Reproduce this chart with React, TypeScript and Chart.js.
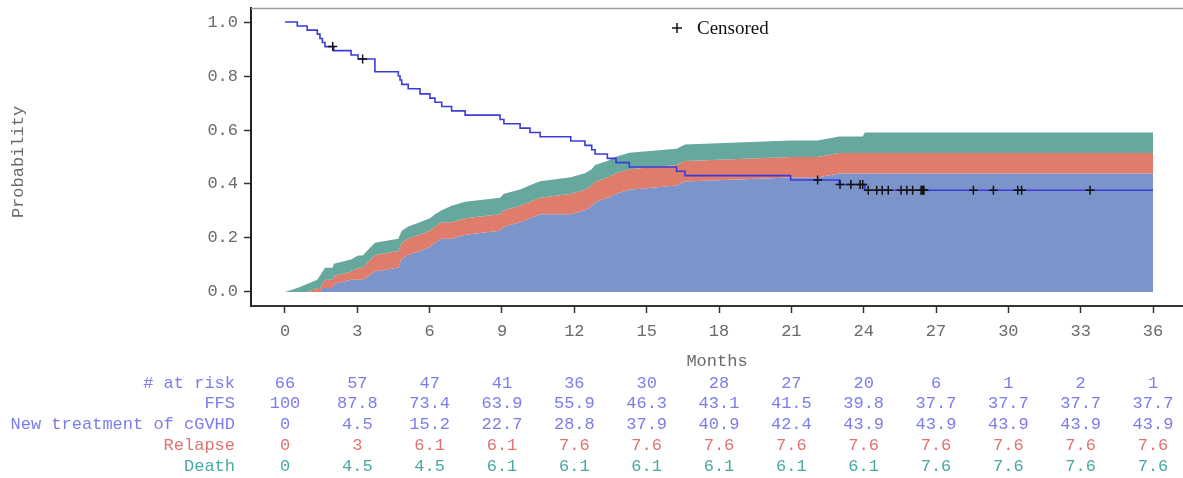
import { useEffect, useRef } from "react";
import { Chart, registerables } from "chart.js";

Chart.register(...registerables);

// Axis ticks
const monthTicks = [0, 3, 6, 9, 12, 15, 18, 21, 24, 27, 30, 33, 36];
const probTicks = [0, 0.2, 0.4, 0.6, 0.8, 1.0];

// Failure-free survival (Kaplan–Meier): time of each step and the value after it
const ffsTimes = [
  0, 0.51, 0.92, 1.34, 1.45, 1.55, 1.66, 2.02, 2.74, 3.03, 3.73, 4.7, 4.77, 4.84,
  5.11, 5.6, 6.01, 6.22, 6.5, 6.91, 7.47, 8.92, 9.08, 9.75, 10.16, 10.58, 11.85,
  12.44, 12.72, 12.86, 13.37, 13.73, 14.28, 16.24, 16.59, 20.97, 22.99, 24.05, 36,
];
const ffsSurv = [
  1.0, 0.985, 0.97, 0.955, 0.939, 0.924, 0.909, 0.894, 0.878, 0.863, 0.816, 0.8,
  0.785, 0.769, 0.753, 0.734, 0.718, 0.703, 0.687, 0.671, 0.655, 0.639, 0.623,
  0.607, 0.591, 0.575, 0.559, 0.543, 0.527, 0.511, 0.495, 0.479, 0.463, 0.447,
  0.431, 0.415, 0.398, 0.377, 0.377,
];

// Censored observations (months)
const censorTimes = [
  1.98, 3.22, 22.09, 23.02, 23.47, 23.85, 23.96, 24.19, 24.54, 24.77, 25.02, 25.55,
  25.79, 26.03, 26.38, 26.43, 26.47, 26.5, 28.55, 29.38, 30.39, 30.55, 33.39,
];

// Cumulative incidence of each failure type (%), on a shared time grid
const cifTimes = [
  0, 0.51, 0.92, 1.34, 1.45, 1.55, 1.66, 1.98, 2.02, 2.74, 3.03, 3.22, 3.73, 4.7,
  4.77, 4.84, 5.11, 5.6, 6.01, 6.22, 6.5, 6.91, 7.47, 8.92, 9.08, 9.75, 10.16,
  10.58, 11.85, 12.44, 12.72, 12.86, 13.37, 13.73, 14.28, 16.24, 16.59, 20.97,
  22.09, 22.99, 23.96, 24.05, 36,
];
const newTreatment = [
  0, 0, 0, 0, 0, 1.5, 1.5, 1.5, 3.0, 4.5, 4.5, 4.5, 7.6, 9.1, 10.6, 12.1, 13.7,
  15.2, 16.7, 18.2, 19.7, 19.7, 21.2, 22.7, 24.2, 25.8, 27.3, 28.8, 28.8, 30.3,
  31.8, 33.3, 34.8, 36.4, 37.9, 39.4, 40.9, 42.4, 42.4, 43.9, 43.9, 43.9, 43.9,
];
const relapse = [
  0, 0, 0, 1.5, 1.5, 1.5, 3.0, 3.0, 3.0, 3.0, 4.5, 4.5, 6.1, 6.1, 6.1, 6.1, 6.1,
  6.1, 6.1, 6.1, 6.1, 6.1, 6.1, 6.1, 6.1, 6.1, 6.1, 6.1, 7.6, 7.6, 7.6, 7.6, 7.6,
  7.6, 7.6, 7.6, 7.6, 7.6, 7.6, 7.6, 7.6, 7.6, 7.6,
];
const death = [
  0, 1.5, 3.0, 3.0, 4.5, 4.5, 4.5, 4.5, 4.5, 4.5, 4.5, 4.5, 4.5, 4.5, 4.5, 4.5,
  4.5, 4.5, 4.5, 4.5, 4.5, 6.1, 6.1, 6.1, 6.1, 6.1, 6.1, 6.1, 6.1, 6.1, 6.1, 6.1,
  6.1, 6.1, 6.1, 6.1, 6.1, 6.1, 6.1, 6.1, 6.1, 7.6, 7.6,
];

// Risk table rows (one value per month tick)
const atRiskRow = ["66", "57", "47", "41", "36", "30", "28", "27", "20", "6", "1", "2", "1"];
const ffsRow = ["100", "87.8", "73.4", "63.9", "55.9", "46.3", "43.1", "41.5", "39.8", "37.7", "37.7", "37.7", "37.7"];
const newTreatmentRow = ["0", "4.5", "15.2", "22.7", "28.8", "37.9", "40.9", "42.4", "43.9", "43.9", "43.9", "43.9", "43.9"];
const relapseRow = ["0", "3", "6.1", "6.1", "7.6", "7.6", "7.6", "7.6", "7.6", "7.6", "7.6", "7.6", "7.6"];
const deathRow = ["0", "4.5", "4.5", "6.1", "6.1", "6.1", "6.1", "6.1", "6.1", "7.6", "7.6", "7.6", "7.6"];

const MONO = '"Liberation Mono", "Courier New", monospace';
const SERIF = '"Liberation Serif", "Times New Roman", serif';

const C_NT = "#7b94ca";
const C_REL = "#df7c6c";
const C_DEATH = "#66a79e";
const C_KM = "#3b3bdc";
const C_AXIS_TEXT = "#6a6a6a";
const C_TABLE_BLUE = "#7c7cec";
const C_TABLE_RED = "#e07272";
const C_TABLE_TEAL = "#48a8a4";

function survivalAt(t: number): number {
  let v = ffsSurv[0];
  for (let i = 0; i < ffsTimes.length; i++) {
    if (ffsTimes[i] <= t) v = ffsSurv[i];
  }
  return v;
}

const tableRows = [
  { label: "# at risk", values: atRiskRow, color: C_TABLE_BLUE },
  { label: "FFS", values: ffsRow, color: C_TABLE_BLUE },
  { label: "New treatment of cGVHD", values: newTreatmentRow, color: C_TABLE_BLUE },
  { label: "Relapse", values: relapseRow, color: C_TABLE_RED },
  { label: "Death", values: deathRow, color: C_TABLE_TEAL },
];

const decorations = {
  id: "decorations",
  afterDraw(chart: any) {
    const { ctx, chartArea, scales } = chart;
    const xs = scales.x;
    ctx.save();

    // top frame line
    ctx.strokeStyle = "#9c9c9c";
    ctx.lineWidth = 1.5;
    ctx.beginPath();
    ctx.moveTo(chartArea.left, chartArea.top + 0.5);
    ctx.lineTo(chartArea.right, chartArea.top + 0.5);
    ctx.stroke();

    // legend: censored marker
    const lx = 677;
    const ly = 28;
    ctx.strokeStyle = "#111";
    ctx.lineWidth = 1.5;
    ctx.beginPath();
    ctx.moveTo(lx - 5, ly);
    ctx.lineTo(lx + 5, ly);
    ctx.moveTo(lx, ly - 5);
    ctx.lineTo(lx, ly + 5);
    ctx.stroke();
    ctx.fillStyle = "#111";
    ctx.font = `19px ${SERIF}`;
    ctx.textAlign = "left";
    ctx.textBaseline = "middle";
    ctx.fillText("Censored", lx + 20, ly + 1);

    // axis titles
    ctx.fillStyle = C_AXIS_TEXT;
    ctx.font = `17px ${MONO}`;
    ctx.textAlign = "center";
    ctx.textBaseline = "middle";
    ctx.fillText("Months", (chartArea.left + chartArea.right) / 2, 361);
    ctx.save();
    ctx.translate(18, 162);
    ctx.rotate(-Math.PI / 2);
    ctx.fillText("Probability", 0, 0);
    ctx.restore();

    // risk table
    tableRows.forEach((row, r) => {
      const y = 383 + r * 20.8;
      ctx.fillStyle = row.color;
      ctx.textAlign = "right";
      ctx.fillText(row.label, 235, y);
      ctx.textAlign = "center";
      row.values.forEach((v, i) => {
        ctx.fillText(v, xs.getPixelForValue(monthTicks[i]), y);
      });
    });

    ctx.restore();
  },
};

export default function App() {
  const canvasRef = useRef<HTMLCanvasElement | null>(null);

  useEffect(() => {
    const canvas = canvasRef.current;
    if (!canvas) return;

    const ntTop = cifTimes.map((t, i) => ({ x: t, y: newTreatment[i] / 100 }));
    const relTop = cifTimes.map((t, i) => ({ x: t, y: (newTreatment[i] + relapse[i]) / 100 }));
    const deathTop = cifTimes.map((t, i) => ({
      x: t,
      y: (newTreatment[i] + relapse[i] + death[i]) / 100,
    }));
    const kmPoints = ffsTimes.map((t, i) => ({ x: t, y: ffsSurv[i] }));
    const censorPoints = censorTimes.map((t) => ({ x: t, y: survivalAt(t) }));

    const areaBase = {
      type: "line" as const,
      borderWidth: 0,
      pointRadius: 0,
      tension: 0,
    };

    const chart = new Chart(canvas, {
      type: "line",
      data: {
        datasets: [
          { ...areaBase, label: "New treatment of cGVHD", data: ntTop, backgroundColor: C_NT, borderColor: C_NT, fill: "origin", order: 5 },
          { ...areaBase, label: "Relapse", data: relTop, backgroundColor: C_REL, borderColor: C_REL, fill: "-1", order: 4 },
          { ...areaBase, label: "Death", data: deathTop, backgroundColor: C_DEATH, borderColor: C_DEATH, fill: "-1", order: 3 },
          {
            type: "line",
            label: "FFS",
            data: kmPoints,
            borderColor: C_KM,
            borderWidth: 1.6,
            pointRadius: 0,
            stepped: "before",
            fill: false,
            order: 2,
          },
          {
            type: "line",
            label: "Censored",
            data: censorPoints,
            showLine: false,
            pointStyle: "cross",
            pointRadius: 4.5,
            pointBorderColor: "#111",
            pointBorderWidth: 1.5,
            pointBackgroundColor: "#111",
            fill: false,
            order: 1,
          },
        ],
      },
      options: {
        animation: false,
        responsive: true,
        maintainAspectRatio: false,
        events: [],
        layout: { autoPadding: false, padding: { left: 0, right: 0, top: 8, bottom: 0 } },
        plugins: {
          legend: { display: false },
          tooltip: { enabled: false },
        },
        scales: {
          x: {
            type: "linear",
            min: -1.41,
            max: 37.244,
            afterBuildTicks: (s: any) => {
              s.ticks = monthTicks.map((v) => ({ value: v }));
            },
            afterFit: (s: any) => {
              s.height = 172;
              s.paddingLeft = 0;
              s.paddingRight = 0;
            },
            ticks: {
              autoSkip: false,
              maxRotation: 0,
              padding: 8,
              color: C_AXIS_TEXT,
              font: { family: MONO, size: 17 },
              callback: (v: any) => String(v),
            },
            grid: {
              drawOnChartArea: false,
              drawTicks: true,
              tickLength: 7,
              tickColor: "#333",
              tickWidth: 1.5,
            },
            border: { display: true, color: "#333", width: 2 },
          },
          y: {
            type: "linear",
            min: -0.0519,
            max: 1.0519,
            afterBuildTicks: (s: any) => {
              s.ticks = probTicks.map((v) => ({ value: v }));
            },
            afterFit: (s: any) => {
              s.width = 251;
              s.paddingTop = 0;
              s.paddingBottom = 0;
            },
            ticks: {
              padding: 6,
              color: C_AXIS_TEXT,
              font: { family: MONO, size: 17 },
              callback: (v: any) => Number(v).toFixed(1),
            },
            grid: {
              drawOnChartArea: false,
              drawTicks: true,
              tickLength: 7,
              tickColor: "#333",
              tickWidth: 1.5,
            },
            border: { display: true, color: "#222", width: 2 },
          },
        },
      },
      plugins: [decorations],
    });

    return () => chart.destroy();
  }, []);

  return (
    <div style={{ position: "fixed", left: 0, top: 0, width: 1183, height: 478, background: "#fff" }}>
      <canvas ref={canvasRef} />
    </div>
  );
}
